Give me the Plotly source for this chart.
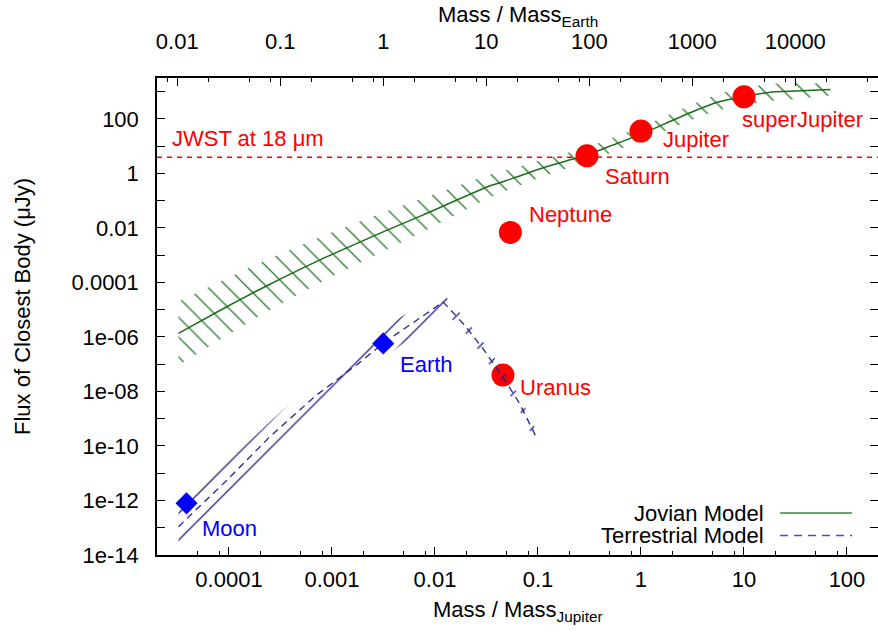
import numpy as np
import plotly.graph_objects as go

EARTH_PER_JUPITER = 317.83
FONT = "Liberation Sans, Arial, Helvetica, sans-serif"

# ---------------- data (mass in Jupiter masses, flux in microJansky) ----------------
jov_mass = [3.23e-5, 9.5e-5, 1.79e-4, 3.24e-4, 8.2e-4, 2.9e-3, 7.6e-3, 0.0338, 0.0569, 0.1197,
            0.296, 0.530, 1.0, 1.74, 3.16, 5.73, 9.84, 17.5, 31.7, 69.2]
jov_flux = [1.35e-6, 1.28e-5, 4.54e-5, 1.41e-4, 7.6e-4, 6.3e-3, 0.0296, 0.343, 0.656, 1.75,
            4.70, 10.9, 27.7, 68.4, 182, 424, 647, 938, 1047, 1208]
jov_upper = [2.0e-5, 1.44e-4, 4.34e-4, 1.17e-3, 5.16e-3, 0.0331, 0.123, 0.902, 1.50, 3.49,
             8.75, 19.9, 50.4, 127, 347, 845, 1321, 1959, 2089, 2004]
jov_lower = [9.1e-8, 1.14e-6, 4.75e-6, 1.69e-5, 1.13e-4, 1.20e-3, 7.10e-3, 0.130, 0.286, 0.877,
             2.52, 6.01, 15.2, 36.7, 95.5, 212, 317, 449, 525, 728]

ter_mass = [3.23e-5, 1.0e-4, 2.49e-4, 7.08e-4, 1.73e-3, 3.13e-3, 0.0103, 0.01194,
            0.01936, 0.0291, 0.0455, 0.0661, 0.0959]
ter_flux = [1.09e-13, 6.6e-12, 2.18e-10, 7.38e-9, 9.29e-8, 5.81e-7, 1.28e-5, 1.95e-5,
            2.73e-6, 3.81e-7, 3.46e-8, 3.66e-9, 2.18e-10]
ter_upper = [6.12e-13, 2.95e-11, 7.73e-10, 2.62e-8, 3.30e-7, 2.06e-6, 3.61e-5, 3.89e-5,
             4.97e-6, 6.93e-7, 6.30e-8, 6.65e-9, 3.96e-10]
ter_lower = [1.94e-14, 1.48e-12, 6.14e-11, 2.08e-9, 2.62e-8, 1.64e-7, 4.54e-6, 9.77e-6,
             1.50e-6, 2.09e-7, 1.90e-8, 2.01e-9, 1.20e-10]

gas_names = ["Saturn", "Jupiter", "superJupiter", "Neptune", "Uranus"]
gas_mass = [0.299, 1.0, 10.0, 0.0539, 0.0457]
gas_flux = [4.43, 35.7, 647, 6.86e-3, 4.0e-8]

rock_names = ["Moon", "Earth"]
rock_mass = [3.87e-5, 3.146e-3]
rock_flux = [7.85e-13, 5.8e-7]

jwst_flux = 3.9
jwst_label = "JWST at 18 \u03bcm"

x_ticks = [1e-4, 1e-3, 1e-2, 1e-1, 1, 10, 100]
x_ticktext = ["0.0001", "0.001", "0.01", "0.1", "1", "10", "100"]
x2_ticks = [0.01, 0.1, 1, 10, 100, 1000, 10000]
x2_ticktext = ["0.01", "0.1", "1", "10", "100", "1000", "10000"]
y_ticks = [1e-14, 1e-12, 1e-10, 1e-8, 1e-6, 1e-4, 1e-2, 1, 100]
y_ticktext = ["1e-14", "1e-12", "1e-10", "1e-08", "1e-06", "0.0001", "0.01", "1", "100"]
y_minor_ticks = [1e-13, 1e-11, 1e-9, 1e-7, 1e-5, 1e-3, 1e-1, 10, 1000]

x_range = [2e-5, 200]

# label offsets (pixels) -- styling
gas_offsets = {"Saturn": (16, -21), "Jupiter": (20, -8), "superJupiter": (-4, -23),
               "Neptune": (17, 18), "Uranus": (15, -12)}
rock_offsets = {"Moon": (13, -25), "Earth": (15, -21)}

GREEN = "#1c6c1c"
HATCH_GREEN = "#2b7b2b"
NAVY = "#24248e"
RED = "#ff0000"
BLUE = "#0000ff"

fig = go.Figure()

# Jovian band (hatched)
fig.add_trace(go.Scatter(x=jov_mass, y=jov_lower, mode="lines", line=dict(width=0),
                         hoverinfo="skip", showlegend=False))
fig.add_trace(go.Scatter(x=jov_mass, y=jov_upper, mode="lines", line=dict(width=0),
                         fill="tonexty", fillcolor="rgba(0,0,0,0)",
                         fillpattern=dict(shape="\\", size=14, solidity=0.095, fgcolor=HATCH_GREEN,
                                          bgcolor="rgba(0,0,0,0)", fillmode="overlay", fgopacity=1),
                         hoverinfo="skip", showlegend=False))
fig.add_trace(go.Scatter(x=jov_mass, y=jov_flux, mode="lines",
                         line=dict(color=GREEN, width=1.5, shape="spline", smoothing=0.5),
                         showlegend=False))

# gas planets
fig.add_trace(go.Scatter(x=gas_mass, y=gas_flux, mode="markers",
                         marker=dict(symbol="circle", size=23, color=RED, line=dict(width=0)),
                         showlegend=False))

# Terrestrial band (hatched)
fig.add_trace(go.Scatter(x=ter_mass, y=ter_lower, mode="lines", line=dict(width=0),
                         hoverinfo="skip", showlegend=False))
fig.add_trace(go.Scatter(x=ter_mass, y=ter_upper, mode="lines", line=dict(width=0),
                         fill="tonexty", fillcolor="rgba(0,0,0,0)",
                         fillpattern=dict(shape="/", size=19, solidity=0.07, fgcolor=NAVY,
                                          bgcolor="rgba(0,0,0,0)", fillmode="overlay", fgopacity=1),
                         hoverinfo="skip", showlegend=False))
fig.add_trace(go.Scatter(x=ter_mass, y=ter_flux, mode="lines",
                         line=dict(color=NAVY, width=1.3, dash="7px,5px"),
                         showlegend=False))

# rocky bodies
fig.add_trace(go.Scatter(x=rock_mass, y=rock_flux, mode="markers",
                         marker=dict(symbol="diamond", size=17, color=BLUE, line=dict(width=0)),
                         showlegend=False))

# helper trace so the top (Earth mass) axis is drawn
fig.add_trace(go.Scatter(x=[m * EARTH_PER_JUPITER for m in rock_mass], y=rock_flux,
                         xaxis="x2", yaxis="y", mode="markers",
                         marker=dict(opacity=0), hoverinfo="skip", showlegend=False))

# JWST sensitivity line
fig.add_shape(type="line", xref="x domain", x0=0, x1=1, yref="y",
              y0=jwst_flux, y1=jwst_flux,
              line=dict(color=RED, width=1.6, dash="5px,5px"))

annotations = []
annotations.append(dict(text=jwst_label, xref="x domain", x=0.018, yref="y",
                        y=np.log10(jwst_flux), yshift=19, xanchor="left", yanchor="middle",
                        showarrow=False, font=dict(family=FONT, size=22, color=RED)))
for n, m, f in zip(gas_names, gas_mass, gas_flux):
    dx, dy = gas_offsets[n]
    annotations.append(dict(text=n, x=np.log10(m), y=np.log10(f), xref="x", yref="y",
                            xshift=dx, yshift=dy, xanchor="left", yanchor="middle",
                            showarrow=False, font=dict(family=FONT, size=22, color=RED)))
for n, m, f in zip(rock_names, rock_mass, rock_flux):
    dx, dy = rock_offsets[n]
    annotations.append(dict(text=n, x=np.log10(m), y=np.log10(f), xref="x", yref="y",
                            xshift=dx, yshift=dy, xanchor="left", yanchor="middle",
                            showarrow=False, font=dict(family=FONT, size=22, color=BLUE)))

# legend (text left, sample right)
PW, PH, PL, PB = 721.0, 477.0, 157.0, 555.0
def px(xp):
    return (xp - PL) / PW
def py(yp):
    return (PB - yp) / PH

legend_items = [("Jovian Model", 513.0, dict(color="#3a8a3a", width=1.5)),
                ("Terrestrial Model", 535.5, dict(color="#4b4bc6", width=1.5, dash="8px,6px"))]
for txt, yy, ln in legend_items:
    annotations.append(dict(text=txt, xref="paper", yref="paper", x=px(766), y=py(yy),
                            xanchor="right", yanchor="middle", showarrow=False,
                            font=dict(family=FONT, size=22, color="black")))
    fig.add_shape(type="line", xref="paper", yref="paper", x0=px(780), x1=px(852),
                  y0=py(yy), y1=py(yy), line=ln)

# axis titles
annotations.append(dict(text="Mass / Mass<sub>Jupiter</sub>", xref="paper", yref="paper",
                        x=px(518), y=py(611), xanchor="center", yanchor="middle",
                        showarrow=False, font=dict(family=FONT, size=22, color="black")))
annotations.append(dict(text="Mass / Mass<sub>Earth</sub>", xref="paper", yref="paper",
                        x=px(518), y=py(16), xanchor="center", yanchor="middle",
                        showarrow=False, font=dict(family=FONT, size=22, color="black")))
annotations.append(dict(text="Flux of Closest Body (\u03bcJy)", xref="paper", yref="paper",
                        x=px(22), y=py(307), xanchor="center", yanchor="middle", textangle=-90,
                        showarrow=False, font=dict(family=FONT, size=22, color="black")))

def minor_vals(lo, hi):
    out = []
    for k in range(-8, 8):
        for mlt in (2, 5, 8):
            v = mlt * 10.0 ** k
            if lo < v < hi:
                out.append(v)
    return out

axis_common = dict(type="log", showgrid=False, zeroline=False, showline=True, linecolor="black",
                   linewidth=1.5, ticks="inside", ticklen=8, tickwidth=1, tickcolor="black",
                   tickfont=dict(family=FONT, size=22, color="black"))

fig.update_layout(
    width=878, height=633,
    margin=dict(l=157, r=0, t=78, b=78, autoexpand=False),
    paper_bgcolor="white", plot_bgcolor="white",
    showlegend=False,
    font=dict(family=FONT, size=22, color="black"),
    xaxis=dict(**axis_common, range=[np.log10(x_range[0]), np.log10(x_range[1])],
               tickmode="array", tickvals=x_ticks, ticktext=x_ticktext, ticklabelstandoff=4,
               minor=dict(tickmode="array", tickvals=minor_vals(x_range[0], x_range[1]),
                          ticks="inside", ticklen=4, tickwidth=1, tickcolor="black", showgrid=False)),
    xaxis2=dict(**axis_common, overlaying="x", side="top", anchor="y",
                range=[np.log10(x_range[0] * EARTH_PER_JUPITER), np.log10(x_range[1] * EARTH_PER_JUPITER)],
                tickmode="array", tickvals=x2_ticks, ticktext=x2_ticktext, ticklabelstandoff=18,
                minor=dict(tickmode="array",
                           tickvals=minor_vals(x_range[0] * EARTH_PER_JUPITER, x_range[1] * EARTH_PER_JUPITER),
                           ticks="inside", ticklen=4, tickwidth=1, tickcolor="black", showgrid=False)),
    yaxis=dict(**axis_common, range=[-14, 3.5], mirror="ticks",
               tickmode="array", tickvals=y_ticks, ticktext=y_ticktext, ticklabelstandoff=12,
               minor=dict(tickmode="array", tickvals=y_minor_ticks, ticks="inside", ticklen=8,
                          tickwidth=1, tickcolor="black", showgrid=False)),
    annotations=annotations,
)

fig.write_html("out.html")
